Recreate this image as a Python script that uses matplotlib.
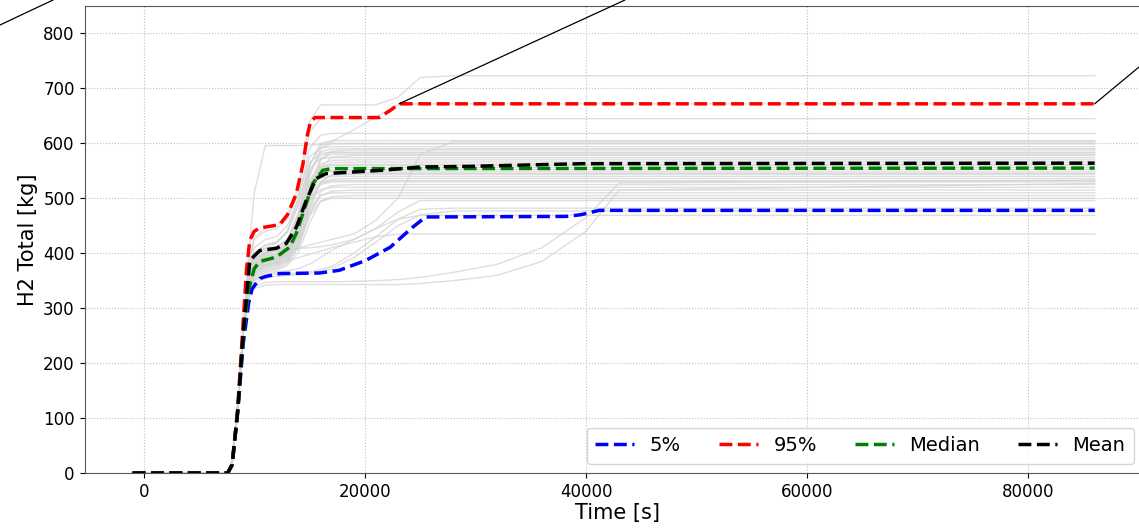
import matplotlib
matplotlib.use("Agg")
import matplotlib.pyplot as plt
from matplotlib.lines import Line2D
from matplotlib.patches import ConnectionPatch

# shared time grid of the individual runs [s]
T_GRID = [-1000, 7600, 8000, 8500, 9000, 9500, 10000, 11000, 12000, 13000,
          14000, 15000, 16000, 17000, 19000, 21000, 23000, 25000, 28000,
          32000, 36000, 40000, 43000, 86000]
ONSET = [0, 0, 20, 120, 255]  # common start of every run (-1000 .. 9000 s)

# H2 total [kg] of each run from 9500 s on
RUNS_HIGH = [
    [400, 510, 596, 596, 596, 596, 597, 598, 599, 599, 599, 599, 599, 599, 599, 599, 599, 599, 599],
    [380, 430, 445, 450, 470, 520, 640, 670, 670, 670, 670, 684, 720, 723, 723, 723, 723, 723, 723],
    [375, 425, 440, 445, 462, 510, 620, 645, 645, 645, 645, 645, 645, 645, 645, 645, 645, 645, 645],
    [360, 400, 415, 420, 440, 490, 560, 595, 603, 625, 648, 670, 672, 672, 672, 672, 672, 672, 672],
    [365, 410, 425, 430, 450, 500, 590, 615, 618, 618, 618, 618, 618, 618, 618, 618, 618, 618, 618],
    [350, 390, 405, 410, 425, 470, 560, 600, 605, 605, 605, 605, 605, 605, 605, 605, 605, 605, 605],
    [345, 380, 395, 400, 415, 455, 540, 590, 600, 600, 600, 600, 600, 600, 600, 600, 600, 600, 600],
    [355, 395, 410, 418, 440, 500, 575, 592, 594, 594, 594, 594, 594, 594, 594, 594, 594, 594, 594],
    [352, 388, 400, 404, 415, 450, 545, 585, 590, 590, 590, 590, 590, 590, 590, 590, 590, 590, 590],
    [340, 372, 385, 390, 400, 430, 500, 570, 586, 588, 588, 588, 588, 588, 588, 588, 588, 588, 588],
    [358, 400, 415, 420, 438, 488, 565, 582, 584, 584, 584, 584, 584, 584, 584, 584, 584, 584, 584],
    [348, 385, 398, 405, 420, 465, 550, 578, 583, 583, 583, 583, 583, 583, 583, 583, 583, 583, 583],
    [345, 378, 390, 394, 405, 440, 525, 572, 580, 580, 580, 580, 580, 580, 580, 580, 580, 580, 580],
    [335, 365, 378, 383, 395, 425, 490, 555, 575, 578, 578, 578, 578, 578, 578, 578, 578, 578, 578],
    [352, 390, 402, 408, 425, 475, 555, 572, 574, 574, 574, 574, 574, 574, 574, 574, 574, 574, 574],
    [342, 375, 388, 393, 405, 440, 520, 562, 569, 570, 570, 570, 570, 570, 570, 570, 570, 570, 570],
]
RUNS_BAND = [
    [338, 370, 380, 385, 398, 432, 505, 555, 565, 566, 566, 566, 566, 566, 566, 566, 566, 566, 566],
    [340, 373, 384, 388, 398, 430, 505, 552, 561, 562, 562, 562, 562, 562, 562, 562, 562, 562, 562],
    [350, 388, 400, 405, 418, 460, 535, 558, 560, 560, 560, 560, 560, 560, 560, 560, 560, 560, 560],
    [345, 380, 392, 396, 408, 445, 525, 553, 556, 556, 556, 556, 556, 556, 556, 556, 556, 556, 556],
    [340, 372, 383, 388, 400, 435, 510, 545, 551, 552, 552, 552, 552, 552, 552, 552, 552, 552, 552],
    [355, 395, 408, 412, 425, 468, 530, 546, 548, 548, 548, 548, 548, 548, 548, 548, 548, 548, 548],
    [333, 360, 370, 374, 385, 412, 478, 530, 543, 545, 545, 545, 545, 545, 545, 545, 545, 545, 545],
    [335, 362, 373, 377, 388, 418, 485, 530, 542, 544, 544, 544, 544, 544, 544, 544, 544, 544, 544],
    [347, 382, 394, 398, 410, 450, 515, 537, 540, 540, 540, 540, 540, 540, 540, 540, 540, 540, 540],
    [338, 368, 378, 382, 392, 425, 495, 528, 535, 536, 536, 536, 536, 536, 536, 536, 536, 536, 536],
    [348, 384, 396, 400, 412, 455, 510, 528, 532, 532, 532, 532, 532, 532, 532, 532, 532, 532, 532],
    [343, 376, 387, 391, 402, 438, 500, 525, 530, 530, 530, 530, 530, 530, 530, 530, 530, 530, 530],
    [332, 358, 368, 372, 382, 410, 470, 512, 523, 525, 525, 525, 525, 525, 525, 525, 525, 525, 525],
    [345, 380, 390, 394, 404, 440, 495, 516, 520, 520, 520, 520, 520, 520, 520, 520, 520, 520, 520],
    [336, 364, 374, 378, 388, 415, 470, 505, 513, 515, 515, 515, 515, 515, 515, 515, 515, 515, 515],
    [340, 370, 380, 384, 394, 425, 480, 505, 510, 510, 510, 510, 510, 510, 510, 510, 510, 510, 510],
    [330, 355, 365, 369, 378, 402, 455, 495, 503, 505, 505, 505, 505, 505, 505, 505, 505, 505, 505],
    [338, 366, 376, 380, 390, 418, 468, 494, 500, 500, 500, 500, 500, 500, 500, 500, 500, 500, 500],
]
RUNS_LATE = [
    [345, 385, 400, 405, 407, 409, 410, 412, 415, 425, 445, 475, 496, 496, 496, 496, 496, 496, 496],
    [325, 350, 360, 362, 363, 364, 366, 370, 376, 400, 430, 462, 480, 482, 482, 482, 482, 482, 482],
    [320, 345, 355, 358, 360, 361, 363, 366, 372, 392, 420, 450, 470, 477, 477, 477, 477, 477, 477],
    [330, 352, 362, 366, 368, 372, 380, 392, 405, 425, 445, 462, 469, 469, 469, 469, 469, 469, 469],
    [340, 370, 385, 390, 398, 409, 415, 420, 425, 435, 460, 500, 580, 603, 603, 603, 603, 603, 603],
    [335, 365, 378, 382, 386, 392, 398, 404, 410, 420, 430, 435, 435, 435, 435, 435, 435, 435, 435],
]
RUNS_SLOW = [
    [318, 336, 342, 343, 343, 343, 343, 343, 343, 343, 343, 343, 345, 350, 360, 385, 440, 515, 527],
    [322, 340, 347, 348, 348, 348, 348, 348, 348, 349, 350, 352, 356, 365, 380, 410, 465, 528, 533],
]

# statistics over the runs
P05_T = [-1000, 7600, 8000, 8500, 9000, 9500, 9800, 10500, 11100, 12300, 15900,
         17700, 20100, 22300, 24300, 25500, 38200, 39500, 41200, 86000]
P05_V = [0, 0, 15, 110, 235, 310, 335, 354, 358, 363, 364,
         369, 387, 411, 447, 466, 467, 470, 478, 478]
P95_T = [-1000, 7600, 8000, 8500, 9000, 9300, 9600, 10000, 10500, 12300, 13000,
         13800, 14400, 14800, 15100, 15500, 21300, 22300, 23100, 86000]
P95_V = [0, 0, 15, 115, 275, 370, 424, 440, 446, 452, 470,
         508, 562, 615, 640, 647, 647, 660, 672, 672]
MED_T = [-1000, 7600, 8000, 8500, 9000, 9500, 10000, 10500, 12000, 13200, 13800,
         14700, 15300, 16200, 17000, 86000]
MED_V = [0, 0, 15, 112, 250, 335, 372, 385, 393, 411, 436,
         491, 527, 551, 554, 555]
MEAN_T = [-1000, 7600, 8000, 8500, 9000, 9600, 10500, 12000, 12900, 13800, 14700,
          15600, 16500, 21600, 25000, 29200, 39700, 86000]
MEAN_V = [0, 0, 15, 112, 255, 387, 405, 409, 418, 447, 496,
          536, 545, 551, 557, 558, 563, 564]

W, H = 1139, 529
fig = plt.figure(figsize=(W / 100, H / 100), dpi=100)
# the panel is cropped on the right: the axes run past the figure edge
ax = fig.add_axes([84.5 / W, 56 / H, (1150 - 84.5) / W, 467 / H])

for group in (RUNS_HIGH, RUNS_BAND, RUNS_LATE, RUNS_SLOW):
    for run in group:
        ax.plot(T_GRID, ONSET + run, color="lightgray", linewidth=1.0, alpha=0.75)

ax.plot(P05_T, P05_V, "--", color="blue", linewidth=2.5, label="5%")
ax.plot(P95_T, P95_V, "--", color="red", linewidth=2.5, label="95%")
ax.plot(MED_T, MED_V, "--", color="green", linewidth=2.5, label="Median")
ax.plot(MEAN_T, MEAN_V, "--", color="black", linewidth=2.5, label="Mean")

ax.set_xlim(-5350, 91000)
ax.set_ylim(0, 850)
ax.set_xlabel("Time [s]", fontsize=15, labelpad=2)
ax.set_ylabel("H2 Total [kg]", fontsize=15)
ax.tick_params(labelsize=12)
ax.grid(True, linestyle=":", color="0.75", linewidth=0.8)
for sp in ax.spines.values():
    sp.set_color("0.35")

ax.legend(loc="lower right", bbox_to_anchor=(1134 / W, 65 / H),
          bbox_transform=fig.transFigure, borderaxespad=0, ncol=4,
          fontsize=14, columnspacing=1.95, handlelength=2.0, borderpad=0.45)

# zoom-inset connector lines from the full figure
con1 = ConnectionPatch(xyA=(P95_T[-2], P95_V[-2]), coordsA=ax.transData,
                       xyB=(625 / W, 1.0), coordsB=fig.transFigure,
                       color="black", linewidth=0.9)
con2 = ConnectionPatch(xyA=(P95_T[-1], P95_V[-1]), coordsA=ax.transData,
                       xyB=(1.0, 1 - 67 / H), coordsB=fig.transFigure,
                       color="black", linewidth=0.9)
fig.add_artist(con1)
fig.add_artist(con2)
fig.add_artist(Line2D([0.0, 53 / W], [1 - 25 / H, 1.0], transform=fig.transFigure,
                      color="black", linewidth=0.9))

fig.savefig("out.png", dpi=100)
